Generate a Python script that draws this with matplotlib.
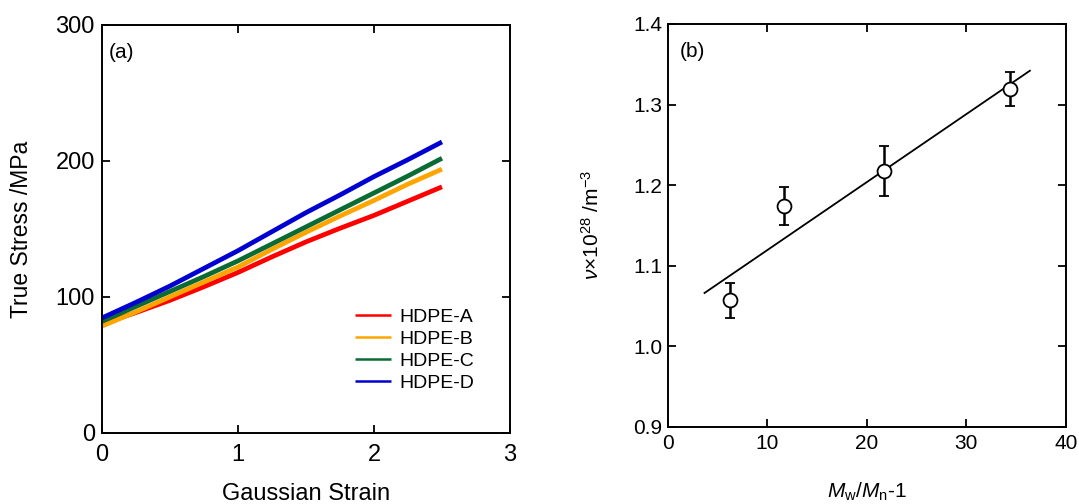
import matplotlib
matplotlib.use("Agg")
import matplotlib.pyplot as plt
import numpy as np

plt.rcParams['font.family'] = ['Liberation Sans', 'DejaVu Sans']
plt.rcParams['mathtext.fontset'] = 'custom'
plt.rcParams['mathtext.rm'] = 'Liberation Sans'
plt.rcParams['mathtext.it'] = 'Liberation Sans:italic'
plt.rcParams['mathtext.bf'] = 'Liberation Sans:bold'

# ---- Panel (a) data ----
strain = [0.0, 0.25, 0.5, 0.75, 1.0, 1.25, 1.5, 1.75, 2.0, 2.25, 2.5]
stress_A = [80, 88.5, 97.5, 107.5, 118, 129.5, 140.5, 150.5, 160, 170.5, 181]
stress_B = [78.5, 89, 100, 111, 122, 135, 147.5, 159.5, 171, 183, 194]
stress_C = [82, 93, 104, 115, 126.5, 139, 151.5, 164, 176.5, 189, 202]
stress_D = [84.5, 96, 108, 121, 134, 148, 162, 175, 188.5, 201, 214]
series_names = ['HDPE-A', 'HDPE-B', 'HDPE-C', 'HDPE-D']
series_colors = ['#ff0000', '#ffa500', '#0a6b35', '#0000d0']

# ---- Panel (b) data ----
mw_mn = [6.3, 11.7, 21.7, 34.4]
nu = [1.057, 1.174, 1.217, 1.319]
nu_err = [0.022, 0.023, 0.031, 0.021]
fit_x = [3.7, 36.4]
fit_y = [1.066, 1.342]

fig = plt.figure(figsize=(10.79, 5.04), dpi=100)

def style_axes(ax, xpad, ypad, fs):
    for s in ax.spines.values():
        s.set_linewidth(1.4)
    ax.tick_params(direction='in', top=True, right=True, length=5.5, width=1.3,
                   labelsize=fs)
    ax.tick_params(axis='x', pad=xpad)
    ax.tick_params(axis='y', pad=ypad)

# Panel (a)
ax1 = fig.add_axes([0.0943, 0.1409, 0.3784, 0.8095])
for ys, name, c in zip([stress_A, stress_B, stress_C, stress_D], series_names, series_colors):
    ax1.plot(strain, ys, color=c, lw=3.4, label=name, solid_capstyle='butt')
ax1.set_xlim(0, 3)
ax1.set_ylim(0, 300)
ax1.set_xticks([0, 1, 2, 3])
ax1.set_yticks([0, 100, 200, 300])
style_axes(ax1, 8, 5, 17)
ax1.set_xlabel('Gaussian Strain', fontsize=17, labelpad=12)
ax1.set_ylabel('True Stress /MPa', fontsize=16.5, labelpad=16)
ax1.text(0.018, 0.955, '(a)', transform=ax1.transAxes, fontsize=15, va='top', ha='left')
leg = ax1.legend(loc='upper left', bbox_to_anchor=(0.62, 0.305), frameon=False,
                 fontsize=14, handlelength=1.85, handletextpad=0.45,
                 labelspacing=0.22, borderpad=0, borderaxespad=0)
for h in leg.get_lines():
    h.set_linewidth(1.8)

# Panel (b)
ax2 = fig.add_axes([0.6188, 0.1534, 0.3689, 0.799])
ax2.plot(fit_x, fit_y, color='black', lw=1.3)
ax2.errorbar(mw_mn, nu, yerr=nu_err, fmt='o', ms=10, mfc='white', mec='black',
             mew=1.3, ecolor='black', elinewidth=1.8, capsize=3.5, capthick=1.8,
             zorder=3)
ax2.set_xlim(0, 40)
ax2.set_ylim(0.9, 1.4)
ax2.set_xticks([0, 10, 20, 30, 40])
ax2.set_yticks([0.9, 1.0, 1.1, 1.2, 1.3, 1.4])
ax2.set_yticklabels(['0.9', '1.0', '1.1', '1.2', '1.3', '1.4'])
style_axes(ax2, 5, 4, 15)
ax2.set_xlabel(r'$M_{\mathrm{w}}/M_{\mathrm{n}}$-1', fontsize=15, labelpad=20)
ax2.set_ylabel(r'$\nu$×10$^{28}$ /m$^{-3}$', fontsize=15, labelpad=22)
ax2.text(0.03, 0.955, '(b)', transform=ax2.transAxes, fontsize=15, va='top', ha='left')

fig.savefig('out.png', dpi=100)
